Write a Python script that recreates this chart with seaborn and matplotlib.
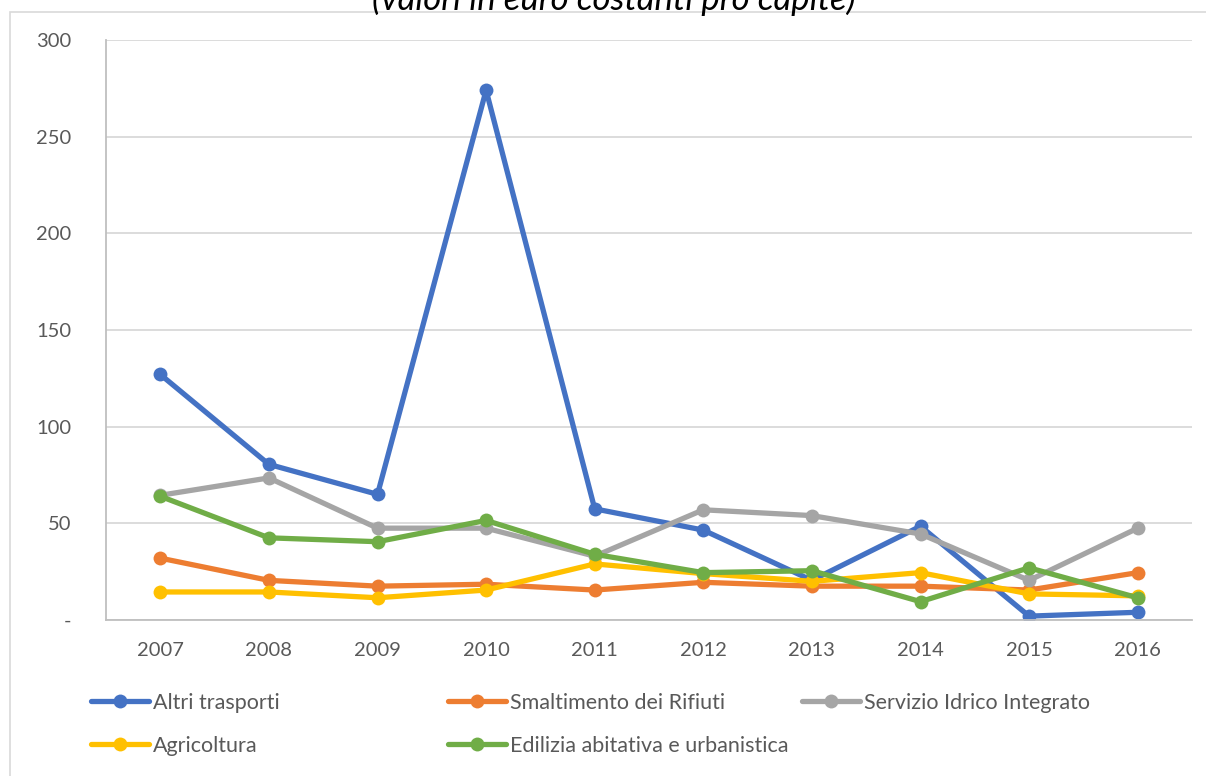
import numpy as np
import pandas as pd
import seaborn as sns
import matplotlib.pyplot as plt
from matplotlib.patches import Rectangle
from matplotlib.ticker import FuncFormatter, FixedLocator

# dati (euro costanti pro capite)
anni = [2007, 2008, 2009, 2010, 2011, 2012, 2013, 2014, 2015, 2016]
altri_trasporti = [127, 80.5, 65, 274, 57.5, 46.5, 20.5, 48.5, 2, 4]
smaltimento_rifiuti = [32, 20.5, 17.5, 18.5, 15.5, 19.5, 17.5, 17.5, 15.5, 24.5]
servizio_idrico = [64.5, 73.5, 47.5, 47.5, 33, 57, 54, 44.5, 20.5, 47.5]
agricoltura = [14.5, 14.5, 11.5, 15.5, 29, 24, 20, 24.5, 13.5, 12.5]
edilizia = [64, 42.5, 40.5, 51.5, 34, 24.5, 25.5, 9.5, 27, 11.5]

serie = {
    "Altri trasporti": altri_trasporti,
    "Smaltimento dei Rifiuti": smaltimento_rifiuti,
    "Servizio Idrico Integrato": servizio_idrico,
    "Agricoltura": agricoltura,
    "Edilizia abitativa e urbanistica": edilizia,
}
colori = ["#4472C4", "#ED7D31", "#A5A5A5", "#FFC000", "#70AD47"]

df = pd.DataFrame({"anno": anni, **serie})
df_long = df.melt(id_vars="anno", var_name="voce", value_name="valore")

sns.set_theme(style="white")
plt.rcParams["font.family"] = ["Lato", "DejaVu Sans"]

fig = plt.figure(figsize=(12.06, 7.76), dpi=100)
ax = fig.add_axes([106 / 1206, 1 - 620 / 776, (1192 - 106) / 1206, (620 - 40) / 776])

sns.lineplot(data=df_long, x="anno", y="valore", hue="voce",
             hue_order=list(serie.keys()), palette=colori,
             marker="o", markersize=10, markeredgewidth=0,
             linewidth=3.8, ax=ax, legend=False)

ax.set_xlim(2006.5, 2016.5)
ax.set_ylim(0, 300)
ax.set_xticks(anni)
ax.set_xticklabels([str(a) for a in anni])
ax.xaxis.set_minor_locator(FixedLocator(np.arange(2006.5, 2017, 1)))
ax.set_yticks(range(0, 301, 50))
ax.yaxis.set_major_formatter(FuncFormatter(lambda v, p: "-" if v == 0 else f"{int(v)}"))
ax.grid(axis="y", color="#D9D9D9", linewidth=1.3)
ax.grid(axis="x", visible=False)
ax.set_xlabel("")
ax.set_ylabel("")

for s in ["top", "right"]:
    ax.spines[s].set_visible(False)
for s in ["left", "bottom"]:
    ax.spines[s].set_color("#BFBFBF")
    ax.spines[s].set_linewidth(1.3)

ax.tick_params(axis="x", which="major", length=0, pad=16, labelsize=14.5, labelcolor="#595959")
ax.tick_params(axis="x", which="minor", length=5, width=1.3, color="#BFBFBF", direction="out")
ax.tick_params(axis="y", length=0, pad=25, labelsize=14.5, labelcolor="#595959")

# titolo (tagliato in alto come nell'originale)
fig.text(614 / 1206, 1 - 10 / 776, "(valori in euro costanti pro capite)",
         ha="center", va="baseline", fontsize=25, style="italic", color="#000000")

# cornice
fig.patches.append(Rectangle((10 / 1206, -0.05), 1.2, 1 - 12 / 776 + 0.05,
                             transform=fig.transFigure, fill=False,
                             edgecolor="#D9D9D9", linewidth=1.2))

# legenda, una voce per posizione
pos = [(91, 703), (448, 703), (802, 703), (91, 746), (448, 746)]
for (nome, col), (px, py) in zip(zip(serie.keys(), colori), pos):
    h = plt.Line2D([], [], color=col, linewidth=3.8, marker="o", markersize=10,
                   markeredgewidth=0)
    fig.legend([h], [nome], loc="center left", bbox_to_anchor=(px / 1206, 1 - py / 776),
               frameon=False, borderpad=0, borderaxespad=0, handlelength=2.7,
               handletextpad=0.2, fontsize=15.5, labelcolor="#595959")

fig.savefig("out.png", dpi=100)
